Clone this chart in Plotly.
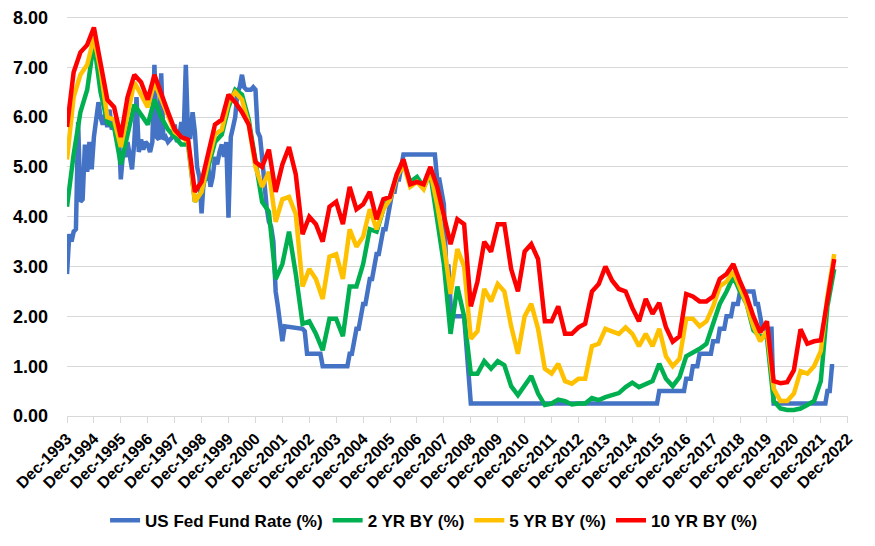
import pandas as pd
import plotly.graph_objects as go

# ---------------- DATA ----------------
# Quarterly grid for the bond yields: Dec-1993 ... Jun-2022
quarters = pd.date_range("1993-12-01", "2022-06-01", freq="3MS")

ten_yr = [5.8,
    6.9, 7.3, 7.45, 7.8,      # 1994
    7.05, 6.35, 6.2, 5.6,     # 1995
    6.4, 6.85, 6.7, 6.35,     # 1996
    6.85, 6.45, 6.1, 5.75,    # 1997
    5.6, 5.55, 4.5, 4.7,      # 1998
    5.3, 5.85, 5.95, 6.45,    # 1999
    6.3, 6.1, 5.85, 5.1,      # 2000
    5.0, 5.35, 4.5, 5.05,     # 2001
    5.4, 4.85, 3.65, 4.0,     # 2002
    3.85, 3.5, 4.2, 4.3,      # 2003
    3.85, 4.6, 4.15, 4.25,    # 2004
    4.5, 3.95, 4.35, 4.4,     # 2005
    4.85, 5.15, 4.65, 4.7,    # 2006
    4.65, 5.0, 4.6, 4.05,     # 2007
    3.45, 3.95, 3.85, 2.2,    # 2008
    2.7, 3.5, 3.3, 3.85,      # 2009
    3.85, 2.95, 2.5, 3.3,     # 2010
    3.45, 3.15, 1.9, 1.9,     # 2011
    2.2, 1.65, 1.65, 1.78,    # 2012
    1.85, 2.5, 2.65, 3.0,     # 2013
    2.72, 2.55, 2.5, 2.17,    # 2014
    1.9, 2.35, 2.05, 2.27,    # 2015
    1.78, 1.49, 1.6, 2.45,    # 2016
    2.4, 2.3, 2.3, 2.4,       # 2017
    2.75, 2.85, 3.05, 2.7,    # 2018
    2.4, 2.0, 1.68, 1.9,      # 2019
    0.7, 0.66, 0.68, 0.92,    # 2020
    1.74, 1.45, 1.5, 1.52,    # 2021
    2.35, 3.15]               # 2022

five_yr = [5.15,
    6.4, 6.85, 7.05, 7.6,
    6.95, 6.0, 5.95, 5.4,
    6.1, 6.7, 6.45, 6.2,
    6.7, 6.35, 6.0, 5.7,
    5.6, 5.5, 4.3, 4.5,
    5.1, 5.65, 5.75, 6.3,
    6.5, 6.35, 5.85, 5.0,
    4.6, 4.9, 3.9, 4.35,
    4.4, 4.05, 2.6, 2.95,
    2.75, 2.35, 3.2, 3.25,
    2.75, 3.75, 3.4, 3.6,
    4.15, 3.75, 4.15, 4.35,
    4.8, 5.05, 4.6, 4.7,
    4.55, 4.9, 4.25, 3.45,
    2.45, 3.35, 3.0, 1.55,
    1.7, 2.55, 2.3, 2.65,
    2.5, 1.8, 1.25, 2.0,
    2.25, 1.75, 0.95, 0.85,
    1.05, 0.7, 0.65, 0.75,
    0.75, 1.4, 1.45, 1.75,
    1.7, 1.65, 1.78, 1.65,
    1.4, 1.65, 1.4, 1.75,
    1.2, 1.0, 1.15, 1.95,
    1.95, 1.8, 1.9, 2.2,
    2.6, 2.7, 2.9, 2.55,
    2.25, 1.8, 1.5, 1.7,
    0.55, 0.3, 0.3, 0.45,
    0.9, 0.85, 1.0, 1.3,
    2.4, 3.25]

two_yr = [4.2,
    5.25, 6.1, 6.55, 7.5,
    6.5, 5.9, 5.8, 5.05,
    5.7, 6.25, 6.05, 5.85,
    6.35, 6.0, 5.75, 5.6,
    5.45, 5.45, 4.3, 4.5,
    5.0, 5.5, 5.65, 6.2,
    6.55, 6.45, 5.95, 5.1,
    4.3, 4.1, 2.75, 3.05,
    3.7, 2.85, 1.85, 1.9,
    1.65, 1.32, 1.95, 1.95,
    1.6, 2.6, 2.6, 3.05,
    3.75, 3.7, 4.15, 4.4,
    4.8, 5.1, 4.7, 4.8,
    4.6, 4.85, 4.0, 3.05,
    1.65, 2.6, 2.0, 0.85,
    0.85, 1.1, 0.95, 1.1,
    1.02, 0.6, 0.42, 0.6,
    0.8, 0.45, 0.22, 0.25,
    0.33, 0.3, 0.23, 0.25,
    0.25, 0.36, 0.32, 0.38,
    0.42, 0.46, 0.58, 0.67,
    0.58, 0.65, 0.7, 1.05,
    0.75, 0.6, 0.78, 1.2,
    1.27, 1.35, 1.45, 1.85,
    2.25, 2.5, 2.8, 2.5,
    2.25, 1.72, 1.6, 1.58,
    0.3, 0.15, 0.12, 0.12,
    0.15, 0.22, 0.3, 0.7,
    2.2, 2.95]

# Fed funds: monthly Dec-1993 .. Dec-2001, then change points
fed_months_dense = pd.date_range("1993-12-01", "2001-12-01", freq="MS")
fed_rate_dense = [2.85,
    3.65, 3.5, 3.7, 3.75, 5.9, 4.3, 4.35, 5.45, 4.9, 5.5, 4.95, 5.6,     # 1994
    5.95, 6.3, 6.0, 5.85, 6.05, 5.8, 6.15, 5.75, 5.85, 5.6, 5.8, 4.75,   # 1995
    5.3, 5.2, 5.5, 5.25, 4.95, 5.5, 6.4, 5.3, 5.55, 5.35, 5.5, 5.45,     # 1996
    5.3, 5.5, 7.05, 5.6, 5.55, 6.88, 5.55, 5.6, 5.5, 5.55, 5.6, 5.85,    # 1997
    5.5, 5.6, 5.9, 5.6, 7.05, 5.6, 5.6, 6.1, 5.7, 5.0, 4.8, 4.07,        # 1998
    4.8, 4.75, 5.0, 4.6, 4.8, 5.2, 5.05, 5.3, 5.45, 5.2, 5.5, 3.98,      # 1999
    5.6, 5.8, 6.0, 6.5, 6.6, 6.85, 6.6, 6.55, 6.55, 6.55, 6.6, 6.55,     # 2000
    5.7, 5.6, 5.2, 4.6, 4.2, 3.9, 3.8, 3.5, 2.5, 2.2, 1.75, 1.5]         # 2001

fed_months_sparse = [
    "2002-01", "2002-09", "2002-10", "2002-11", "2003-05", "2003-06", "2004-05",
    "2004-06", "2004-07", "2004-08", "2004-09", "2004-10", "2004-11", "2004-12",
    "2005-01", "2005-02", "2005-03", "2005-04", "2005-05", "2005-06", "2005-07",
    "2005-08", "2005-09", "2005-10", "2005-11", "2005-12", "2006-01", "2006-02",
    "2006-03", "2006-04", "2006-05", "2006-06", "2007-08", "2007-09", "2007-10",
    "2007-11", "2007-12", "2008-01", "2008-02", "2008-03", "2008-04", "2008-09",
    "2008-10", "2008-11", "2008-12", "2015-11", "2015-12", "2016-11", "2016-12",
    "2017-02", "2017-03", "2017-05", "2017-06", "2017-11", "2017-12", "2018-02",
    "2018-03", "2018-05", "2018-06", "2018-08", "2018-09", "2018-11", "2018-12",
    "2019-06", "2019-07", "2019-08", "2019-09", "2019-10", "2020-02", "2020-03",
    "2022-02", "2022-03", "2022-04", "2022-05", "2022-06"]
fed_rate_sparse = [
    1.8, 1.75, 1.7, 1.25, 1.25, 1.0, 1.0,
    1.25, 1.25, 1.5, 1.75, 1.75, 2.0, 2.25,
    2.25, 2.5, 2.75, 2.75, 3.0, 3.25, 3.25,
    3.5, 3.75, 3.75, 4.0, 4.25, 4.5, 4.5,
    4.75, 4.75, 5.0, 5.25, 5.25, 4.75, 4.75,
    4.5, 4.25, 3.0, 3.0, 2.25, 2.0, 2.0,
    1.5, 1.0, 0.25, 0.25, 0.5, 0.5, 0.75,
    0.75, 1.0, 1.0, 1.25, 1.25, 1.5, 1.5,
    1.75, 1.75, 2.0, 2.0, 2.25, 2.25, 2.5,
    2.5, 2.25, 2.25, 2.0, 1.75, 1.75, 0.25,
    0.25, 0.5, 0.5, 1.0, 1.0]

series_names = ["US Fed Fund Rate (%)", "2 YR BY (%)", "5 YR BY (%)", "10 YR BY (%)"]
series_colors = ["#4472C4", "#00B050", "#FFC000", "#FF0000"]

year_ticks = pd.date_range("1993-12-01", "2022-12-01", freq="12MS")
y_ticks = [0, 1, 2, 3, 4, 5, 6, 7, 8]

# ---------------- FIGURE ----------------
fed_x = list(fed_months_dense) + list(pd.to_datetime(fed_months_sparse))
fed_y = fed_rate_dense + fed_rate_sparse

fig = go.Figure()
fig.add_trace(go.Scatter(x=fed_x, y=fed_y, mode="lines", name=series_names[0],
                         line=dict(color=series_colors[0], width=4.5)))
for name, color, vals in zip(series_names[1:], series_colors[1:], [two_yr, five_yr, ten_yr]):
    fig.add_trace(go.Scatter(x=quarters, y=vals, mode="lines", name=name,
                             line=dict(color=color, width=4.5)))

font_family = "Liberation Sans, Arial, sans-serif"
fig.update_layout(
    width=875, height=546,
    margin=dict(l=59, r=35, t=8, b=138, autoexpand=False),
    paper_bgcolor="white", plot_bgcolor="white",
    font=dict(family=font_family, color="black"),
    showlegend=True,
    legend=dict(orientation="h", x=0.47, xanchor="center", y=-0.262, yanchor="middle",
                font=dict(size=17, weight="bold", color="black"),
                itemwidth=30, tracegroupgap=0),
)
fig.update_xaxes(
    type="date", range=["1993-12-01", "2022-12-05"], automargin=False,
    tickvals=list(year_ticks), tickformat="%b-%Y", tickangle=-45,
    tickfont=dict(size=16, weight="bold", color="black"),
    showgrid=False, showline=True, linecolor="#d9d9d9", linewidth=1,
    ticks="outside", ticklen=6, tickcolor="#d9d9d9", zeroline=False,
)
fig.update_yaxes(
    range=[0, 8.03], tickvals=y_ticks, tickformat=".2f", automargin=False,
    tickfont=dict(size=18, weight="bold", color="black"),
    showgrid=True, gridcolor="#d9d9d9", gridwidth=1, zeroline=False,
    showline=False, ticks="", ticklabelstandoff=18, ticklabeloverflow="allow",
)

fig.write_html("out.html")
